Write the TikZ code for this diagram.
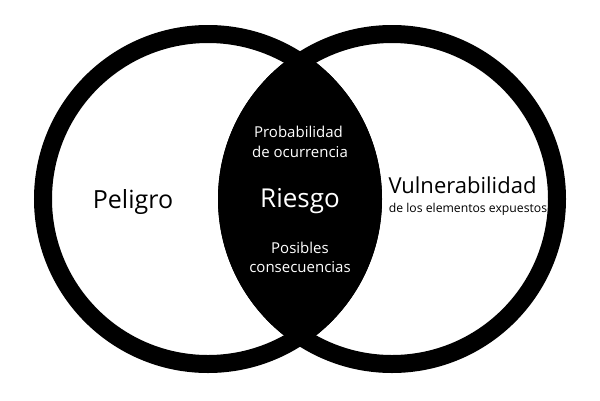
\documentclass[tikz,border=0pt]{standalone}
\usepackage{fontspec}
\setmainfont{Open Sans}
\begin{document}
\begin{tikzpicture}[x=1pt,y=-1pt,
  ring/.style={draw=black,line width=18pt},
  lbl/.style={inner sep=0pt,anchor=base,font=\fontsize{#1}{#1}\selectfont},
  wlbl/.style={lbl=#1,text=white}]
\useasboundingbox (0,0) rectangle (600,400);
\coordinate (cl) at (208,199);
\coordinate (cr) at (392,199);
\begin{scope}
  \clip (cl) circle (174);
  \fill[black] (cr) circle (174);
\end{scope}
\draw[ring] (cl) circle (165);
\draw[ring] (cr) circle (165);
\node[lbl=25] (peligro) at (133,208) {Peligro};
\node[wlbl=26] (riesgo) at (300,207) {Riesgo};
\node[wlbl=15] (prob) at (298.5,137) {Probabilidad};
\node[wlbl=15] (ocur) at (300,157) {de ocurrencia};
\node[wlbl=15] (pos) at (300,253) {Posibles};
\node[wlbl=15] (cons) at (300,272) {consecuencias};
\node[lbl=22] (vul) at (462.5,193) {Vulnerabilidad};
\node[lbl=12.2] (elem) at (468,212) {de los elementos expuestos};
\end{tikzpicture}
\end{document}
